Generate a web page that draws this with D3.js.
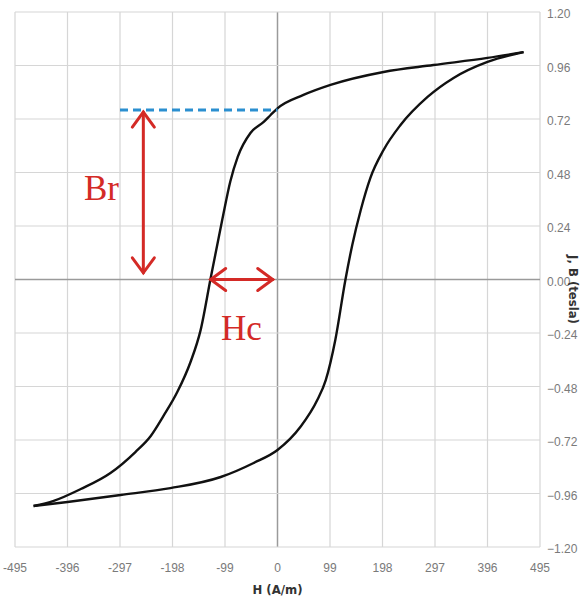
<!DOCTYPE html>
<html lang="en">
<head>
    <meta charset="utf-8" />
    <script src="https://cdnjs.cloudflare.com/ajax/libs/d3/7.8.5/d3.min.js"></script>
    <style type="text/css">
        body {
            margin: 0;
            background: #fff;
        }

        .tick-label {
            font-family: 'Liberation Sans Narrow', 'Liberation Sans', sans-serif;
            font-size: 12px;
            fill: #7a7a7a;
        }

        .axis-title {
            font-family: 'Liberation Sans Narrow', 'DejaVu Sans Condensed', sans-serif;
            font-weight: bold;
            font-size: 13px;
            fill: #333;
        }

        .note {
            font-family: 'Liberation Serif', 'DejaVu Serif', serif;
            font-size: 35px;
            fill: #d42a26;
        }
    </style>
</head>
<body>
    <div class="svg-box"></div>
    <script type="text/javascript">
        // tick values
        var hTicks = [-495, -396, -297, -198, -99, 0, 99, 198, 297, 396, 495];
        var bTicks = [-1.20, -0.96, -0.72, -0.48, -0.24, 0.00, 0.24, 0.48, 0.72, 0.96, 1.20];

        // descending branch (upper curve), H in A/m, B in tesla
        var downH = [464, 396, 294, 200, 100, 49, 0, -13, -26, -51, -75, -89, -104, -126, -145, -164, -189, -215, -239, -268, -315, -371, -422, -460];
        var downB = [1.02, 0.994, 0.962, 0.931, 0.873, 0.828, 0.768, 0.738, 0.707, 0.657, 0.55, 0.44, 0.27, 0.007, -0.227, -0.37, -0.505, -0.612, -0.702, -0.774, -0.868, -0.940, -0.993, -1.016];

        // ascending branch (lower curve)
        var upH = [-460, -396, -296, -202, -107, -45, 0, 43, 75, 91, 109, 128, 141, 157, 175, 200, 232, 283, 332, 396, 464];
        var upB = [-1.016, -0.998, -0.967, -0.936, -0.886, -0.823, -0.765, -0.662, -0.541, -0.451, -0.271, -0.002, 0.155, 0.312, 0.455, 0.581, 0.693, 0.819, 0.904, 0.976, 1.02];

        // annotations
        var br = 0.76;        // remanence
        var hc = -126;        // coercivity
        var brArrowH = -253;
        var brLineFrom = -297;

        let width = 582;
        let height = 601;

        var svg = d3.select('div.svg-box')
            .append('svg')
            .attr('width', width)
            .attr('height', height);

        var x = d3.scaleLinear().domain([-495, 495]).range([15, 540]);
        var y = d3.scaleLinear().domain([-1.2, 1.2]).range([547, 12]);

        // grid
        var grid = svg.append('g');
        grid.selectAll('line.v')
            .data(hTicks)
            .enter()
            .append('line')
            .attr('x1', function (d) { return x(d) })
            .attr('x2', function (d) { return x(d) })
            .attr('y1', y(1.2))
            .attr('y2', y(-1.2))
            .attr('stroke', function (d) { return d === 0 ? '#9a9a9a' : '#d6d6d6' })
            .attr('stroke-width', function (d) { return d === 0 ? 1.5 : 1.2 });
        grid.selectAll('line.h')
            .data(bTicks)
            .enter()
            .append('line')
            .attr('y1', function (d) { return y(d) })
            .attr('y2', function (d) { return y(d) })
            .attr('x1', x(-495))
            .attr('x2', x(495))
            .attr('stroke', function (d) { return d === 0 ? '#9a9a9a' : '#d6d6d6' })
            .attr('stroke-width', function (d) { return d === 0 ? 1.5 : 1.2 });

        // tick labels
        svg.append('g').selectAll('text')
            .data(hTicks)
            .enter()
            .append('text')
            .attr('class', 'tick-label')
            .attr('x', function (d) { return x(d) })
            .attr('y', 572)
            .attr('text-anchor', 'middle')
            .text(function (d) { return d });

        svg.append('g').selectAll('text')
            .data(bTicks)
            .enter()
            .append('text')
            .attr('class', 'tick-label')
            .attr('x', 547)
            .attr('y', function (d) { return y(d) + 6 })
            .text(function (d) { return d3.format('.2f')(d) });

        svg.append('text')
            .attr('class', 'axis-title')
            .attr('x', x(0))
            .attr('y', 594)
            .attr('text-anchor', 'middle')
            .text('H (A/m)');

        svg.append('text')
            .attr('class', 'axis-title')
            .attr('transform', 'translate(569,' + (y(0) + 10) + ') rotate(90)')
            .attr('text-anchor', 'middle')
            .text('J, B (tesla)');

        // hysteresis loop (both branches are monotone, so sort by H)
        var line = d3.line()
            .x(function (d) { return x(d[0]) })
            .y(function (d) { return y(d[1]) })
            .curve(d3.curveMonotoneX);

        var down = d3.zip(downH, downB).sort(function (a, b) { return a[0] - b[0] });
        var up = d3.zip(upH, upB).sort(function (a, b) { return a[0] - b[0] });

        svg.append('path')
            .attr('d', line(down))
            .attr('fill', 'none')
            .attr('stroke', '#111')
            .attr('stroke-width', 2.4);
        svg.append('path')
            .attr('d', line(up))
            .attr('fill', 'none')
            .attr('stroke', '#111')
            .attr('stroke-width', 2.4);

        // Br dashed line
        svg.append('line')
            .attr('x1', x(brLineFrom))
            .attr('x2', x(0))
            .attr('y1', y(br))
            .attr('y2', y(br))
            .attr('stroke', '#2b8fd0')
            .attr('stroke-width', 3)
            .attr('stroke-dasharray', '8,5');

        // arrows
        var red = '#d42a26';
        function arrow(x1, y1, x2, y2) {
            var g = svg.append('g')
                .attr('stroke', red)
                .attr('stroke-width', 3)
                .attr('fill', 'none')
                .attr('stroke-linecap', 'round');
            g.append('line').attr('x1', x1).attr('y1', y1).attr('x2', x2).attr('y2', y2);
            var a = Math.atan2(y2 - y1, x2 - x1);
            [[x2, y2, a], [x1, y1, a + Math.PI]].forEach(function (p) {
                var L = 15, W = 11;
                var cx = Math.cos(p[2]), sx = Math.sin(p[2]);
                var bx = p[0] - L * cx, by = p[1] - L * sx;
                g.append('path')
                    .attr('d', 'M' + (bx - W * sx) + ',' + (by + W * cx) +
                        'L' + p[0] + ',' + p[1] +
                        'L' + (bx + W * sx) + ',' + (by - W * cx));
            });
        }
        arrow(x(brArrowH), y(br) + 2, x(brArrowH), y(0.03));
        arrow(x(hc), y(0), x(-9), y(0));

        svg.append('text')
            .attr('class', 'note')
            .attr('x', 84)
            .attr('y', 200)
            .text('Br');
        svg.append('text')
            .attr('class', 'note')
            .attr('x', 221)
            .attr('y', 340)
            .text('Hc');
    </script>
</body>
</html>
